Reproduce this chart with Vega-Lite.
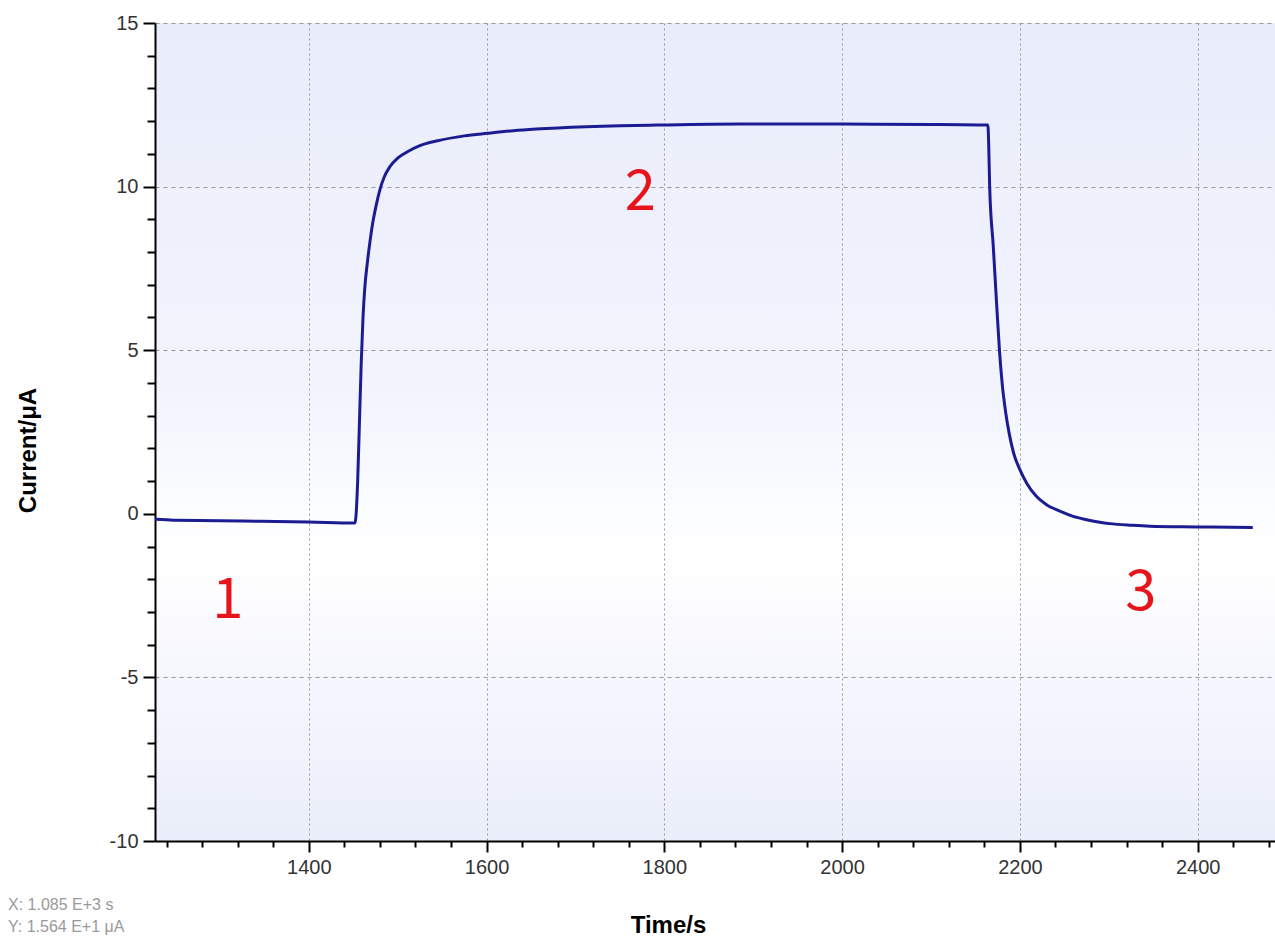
{
  "$schema": "https://vega.github.io/schema/vega-lite/v6.json",
  "width": 1120,
  "height": 818,
  "autosize": {"type": "none"},
  "padding": {"left": 155, "top": 23, "right": 0, "bottom": 101},
  "background": "white",
  "view": {
    "stroke": null,
    "fill": {
      "gradient": "linear", "x1": 0, "y1": 0, "x2": 0, "y2": 1,
      "stops": [
        {"offset": 0, "color": "#e9edfa"},
        {"offset": 0.45, "color": "#f2f4fd"},
        {"offset": 0.6, "color": "#fcfdff"},
        {"offset": 0.66, "color": "#ffffff"},
        {"offset": 0.8, "color": "#f6f7fe"},
        {"offset": 1, "color": "#eaeefa"}
      ]
    }
  },
  "config": {"font": "Liberation Sans"},
  "title": {
    "text": ["X: 1.085 E+3 s", "Y: 1.564 E+1 μA"],
    "orient": "bottom",
    "anchor": "start",
    "frame": "bounds",
    "font": "Liberation Sans",
    "fontSize": 16,
    "fontWeight": "normal",
    "color": "#9a9a9a",
    "lineHeight": 22,
    "dx": -8,
    "dy": -44
  },
  "datasets": {
    "curve": [
      {"t": 1227, "v": -0.17}, {"t": 1240, "v": -0.18}, {"t": 1250, "v": -0.2},
      {"t": 1300, "v": -0.21}, {"t": 1345, "v": -0.23}, {"t": 1400, "v": -0.25},
      {"t": 1452, "v": -0.28}, {"t": 1453, "v": -0.1}, {"t": 1455, "v": 1.0},
      {"t": 1457, "v": 2.8}, {"t": 1459, "v": 4.6}, {"t": 1461, "v": 6.0},
      {"t": 1463, "v": 6.9}, {"t": 1466, "v": 7.7}, {"t": 1469, "v": 8.35},
      {"t": 1472, "v": 8.9}, {"t": 1476, "v": 9.45}, {"t": 1480, "v": 9.9},
      {"t": 1485, "v": 10.3}, {"t": 1491, "v": 10.6}, {"t": 1500, "v": 10.87},
      {"t": 1510, "v": 11.05}, {"t": 1525, "v": 11.25}, {"t": 1545, "v": 11.4},
      {"t": 1575, "v": 11.55}, {"t": 1601, "v": 11.63}, {"t": 1630, "v": 11.71},
      {"t": 1656, "v": 11.76}, {"t": 1712, "v": 11.83}, {"t": 1750, "v": 11.86},
      {"t": 1791, "v": 11.88}, {"t": 1885, "v": 11.91}, {"t": 2000, "v": 11.91},
      {"t": 2100, "v": 11.9}, {"t": 2164, "v": 11.88}, {"t": 2165, "v": 11.2},
      {"t": 2166, "v": 10.0}, {"t": 2170, "v": 8.2}, {"t": 2173, "v": 6.8},
      {"t": 2177, "v": 5.0}, {"t": 2180, "v": 4.0}, {"t": 2184, "v": 3.1},
      {"t": 2188, "v": 2.45}, {"t": 2193, "v": 1.85}, {"t": 2200, "v": 1.35},
      {"t": 2208, "v": 0.92}, {"t": 2218, "v": 0.55}, {"t": 2230, "v": 0.28},
      {"t": 2245, "v": 0.08}, {"t": 2260, "v": -0.08}, {"t": 2275, "v": -0.18},
      {"t": 2290, "v": -0.26}, {"t": 2301, "v": -0.3}, {"t": 2325, "v": -0.35},
      {"t": 2346, "v": -0.38}, {"t": 2400, "v": -0.4}, {"t": 2462, "v": -0.42}
    ],
    "labels": [
      {"label": "1", "t": 1309, "v": -2.65},
      {"label": "2", "t": 1773, "v": 9.8},
      {"label": "3", "t": 2336, "v": -2.43}
    ]
  },
  "layer": [
    {
      "mark": {"type": "rule", "color": "#8a9aa5", "strokeWidth": 1.5},
      "encoding": {
        "y": {"datum": 0, "type": "quantitative", "scale": {"domain": [-10, 15], "nice": false}}
      }
    },
    {
      "data": {"name": "curve"},
      "mark": {"type": "line", "color": "#1c1c92", "strokeWidth": 3, "interpolate": "monotone"},
      "encoding": {
        "x": {
          "field": "t", "type": "quantitative",
          "scale": {"domain": [1227, 2487], "nice": false, "zero": false},
          "axis": {
            "title": "Time/s",
            "values": [1240,1280,1320,1360,1400,1440,1480,1520,1560,1600,1640,1680,1720,1760,1800,1840,1880,1920,1960,2000,2040,2080,2120,2160,2200,2240,2280,2320,2360,2400,2440,2480],
            "tickCount": 200,
            "format": "d",
            "labelExpr": "datum.value % 200 === 0 ? datum.label : ''",
            "labelFont": "Liberation Sans", "labelFontSize": 20, "labelColor": "#333333",
            "labelPadding": 5, "labelFlush": false, "labelOverlap": false,
            "tickColor": "#000000", "tickWidth": 2,
            "tickSize": {"condition": {"test": "datum.value % 200 === 0", "value": 11}, "value": 6},
            "domainColor": "#000000", "domainWidth": 2,
            "grid": true, "gridColor": "#999999", "gridDash": [2, 3], "gridWidth": 1,
            "gridOpacity": {"condition": {"test": "datum.value % 200 === 0", "value": 1}, "value": 0},
            "titleFont": "Liberation Sans", "titleFontSize": 24, "titleFontWeight": "bold", "titleColor": "#000000",
            "titleX": 513, "titleY": 84, "titleAlign": "center", "titleBaseline": "middle"
          }
        },
        "y": {
          "field": "v", "type": "quantitative",
          "scale": {"domain": [-10, 15], "nice": false},
          "axis": {
            "title": "Current/μA",
            "values": [-10,-9,-8,-7,-6,-5,-4,-3,-2,-1,0,1,2,3,4,5,6,7,8,9,10,11,12,13,14,15],
            "tickCount": 200,
            "format": "d",
            "labelExpr": "datum.value % 5 === 0 ? replace(datum.label, '−', '-') : ''",
            "labelFont": "Liberation Sans", "labelFontSize": 20, "labelColor": "#333333",
            "labelPadding": 5, "labelFlush": false, "labelOverlap": false,
            "tickColor": "#000000", "tickWidth": 2,
            "tickSize": {"condition": {"test": "datum.value % 5 === 0", "value": 12}, "value": 8},
            "domainColor": "#000000", "domainWidth": 2,
            "grid": true, "gridColor": "#999999", "gridDash": [4, 4], "gridWidth": 1,
            "gridOpacity": {"condition": {"test": "datum.value % 5 === 0 && datum.value !== 0", "value": 1}, "value": 0},
            "titleFont": "Liberation Sans", "titleFontSize": 24, "titleFontWeight": "bold", "titleColor": "#000000",
            "titleX": -127, "titleY": 427, "titleAngle": -90, "titleAlign": "center", "titleBaseline": "middle"
          }
        }
      }
    },
    {
      "mark": {"type": "rule", "color": "#000000", "strokeWidth": 2},
      "encoding": {
        "y": {"datum": 15, "type": "quantitative", "scale": {"domain": [-10, 15], "nice": false}}
      }
    },
    {
      "data": {"name": "labels"},
      "mark": {"type": "text", "color": "#e8141c", "fontSize": 56, "font": "Noto Sans CJK SC", "align": "center", "baseline": "middle"},
      "encoding": {
        "x": {"field": "t", "type": "quantitative", "scale": {"domain": [1227, 2487], "nice": false, "zero": false}},
        "y": {"field": "v", "type": "quantitative", "scale": {"domain": [-10, 15], "nice": false}},
        "text": {"field": "label"}
      }
    }
  ]
}
